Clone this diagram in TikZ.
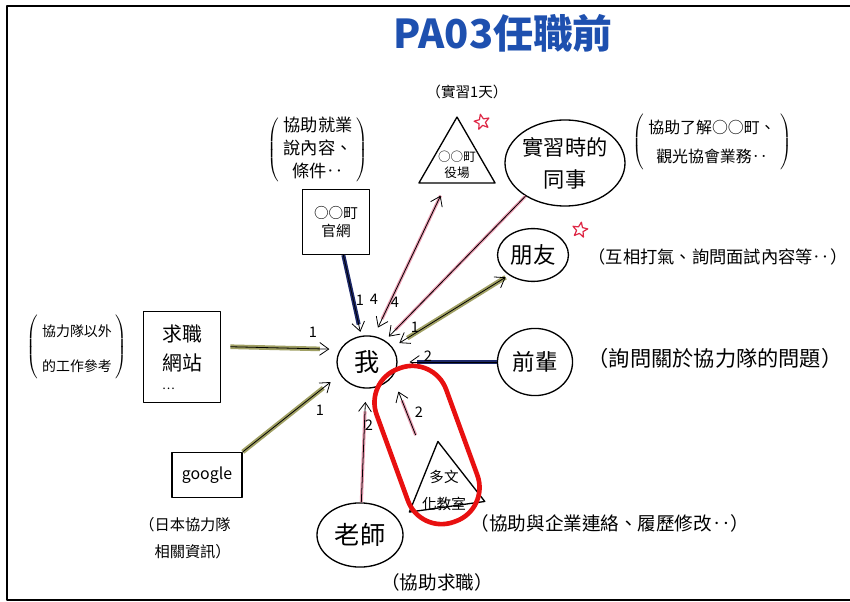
\documentclass[tikz,border=0pt]{standalone}
\usepackage{fontspec}
\setmainfont{Noto Sans CJK TC}
\usetikzlibrary{arrows.meta,shapes.geometric,positioning}
\definecolor{navyline}{RGB}{28,40,105}
\definecolor{oliveline}{RGB}{160,160,100}
\definecolor{pinkline}{RGB}{236,160,180}
\definecolor{titleblue}{RGB}{30,80,175}
\definecolor{markred}{RGB}{232,16,16}
\definecolor{starred}{RGB}{222,40,70}
\newcommand{\inparen}[1]{$\left(\;\begin{tabular}{@{}c@{}}#1\end{tabular}\;\right)$}

\begin{document}
\begin{tikzpicture}[x=0.0265cm, y=-0.0265cm, line join=round,
  >={Straight Barb[length=2.4mm,width=3.4mm]},
  bubble/.style={ellipse, draw, line width=1pt, inner sep=0pt, align=center, font=\fontsize{17}{20}\selectfont},
  card/.style={rectangle, draw, line width=1pt, inner sep=2pt, align=center, font=\fontsize{11}{14}\selectfont},
  tri/.style={regular polygon, regular polygon sides=3, draw, line width=1pt, inner sep=0pt, minimum size=2.33cm},
  note/.style={align=center, inner sep=1pt, font=\fontsize{13}{16}\selectfont},
  num/.style={inner sep=1pt, font=\fontsize{11}{13}\selectfont},
  starmark/.style={star, star points=5, star point ratio=2.3, draw=starred, line width=0.9pt, minimum size=0.42cm, inner sep=0pt},
  navyar/.style={->, black, line width=0.6pt, shorten >=#1, preaction={draw=navyline, line width=3pt, -, shorten >=#1+2mm}},
  navyar/.default=3pt,
  olar/.style={->, black, line width=0.6pt, shorten >=#1, preaction={draw=oliveline, line width=3.5pt, -, shorten >=#1+2.5mm}},
  olar/.default=4pt,
  pinkar/.style={->, black, line width=0.6pt, shorten >=#1, preaction={draw=pinkline, line width=2.4pt, -, shorten >=#1+2.5mm}},
  pinkar/.default=4pt]
 \useasboundingbox (0,0) rectangle (850,602);
 \draw[line width=1.5pt] (851,6) -- (7,6) -- (7,600) -- (851,600);
 \node[font=\fontsize{30}{32}\selectfont\bfseries, text=titleblue] (title) at (503,33) {PA03任職前};

 \node[bubble, minimum width=1.59cm, minimum height=1.38cm, font=\fontsize{19}{22}\selectfont] (me) at (367,362) {我};
 \node[card, minimum width=1.78cm, minimum height=1.72cm] (web) at (336,222) {○○町\\官網};
 \node[tri, label={[font=\fontsize{9.5}{12}\selectfont, align=center, yshift=-3pt]center:{○○町\\役場}}] (office) at (457,161) {};
 \node[bubble, minimum width=2.65cm, minimum height=2.28cm, font=\fontsize{16}{24}\selectfont] (colleague) at (565,163) {實習時的\\同事};
 \node[bubble, minimum width=1.88cm, minimum height=1.40cm] (friend) at (533,255) {朋友};
 \node[bubble, minimum width=1.99cm, minimum height=1.78cm] (senior) at (535,362) {前輩};
 \node[bubble, minimum width=2.28cm, minimum height=1.70cm, font=\fontsize{19}{22}\selectfont] (teacher) at (360,535) {老師};
 \node[card, minimum width=2.04cm, minimum height=2.41cm, font=\fontsize{15}{22}\selectfont] (jobsite) at (182,357) {求職\\網站\\[-8pt]\makebox[2em][l]{\fontsize{9}{9}\selectfont …}};
 \node[card, minimum width=1.86cm, minimum height=1.19cm, font=\fontsize{12}{14}\selectfont] (google) at (207,475) {google};
 \node[tri, minimum size=2.33cm, rotate=8, label={[font=\fontsize{11}{20}\selectfont, align=center, yshift=-4pt]center:{多文\\化教室}}] (edu) at (444,485) {};

 \node[starmark, rotate=12] (star1) at (482,122) {};
 \node[starmark, rotate=-10] (star2) at (580,230) {};

 \node[note, font=\fontsize{13}{17}\selectfont] (webnote) at (318,150) {\inparen{協助就業\\說內容、\\條件‥}};
 \node[note, font=\fontsize{11}{13}\selectfont] (officenote) at (467,92) {（實習1天）};
 \node[note, font=\fontsize{12}{22}\selectfont] (colnote) at (712,142) {\inparen{協助了解○○町、\\觀光協會業務‥}};
 \node[note] (friendnote) at (718,257) {（互相打氣、詢問面試內容等‥）};
 \node[note, font=\fontsize{16}{19}\selectfont] (seniornote) at (715,358) {（詢問關於協力隊的問題）};
 \node[note, font=\fontsize{10.5}{26}\selectfont] (sitenote) at (77,347) {\inparen{協力隊以外\\的工作參考}};
 \node[note, align=left, font=\fontsize{11.5}{20}\selectfont] (googlenote) at (185,538) {（日本協力隊\\\phantom{（}相關資訊）};
 \node[note, font=\fontsize{14}{17}\selectfont] (teachernote) at (437,582) {（協助求職）};
 \node[note, font=\fontsize{14}{17}\selectfont] (edunote) at (610,523) {（協助與企業連絡、履歷修改‥）};

 \draw[navyar] (web) -- (me);
 \draw[pinkar=7pt, <->, shorten <=10pt] (office) -- (me.75);
 \draw[pinkar] (colleague.220) -- (me.50);
 \draw[olar=6pt, <->, shorten <=3pt] (friend.220) -- (me.30);
 \draw[navyar=9pt] (senior) -- (me);
 \draw[pinkar=12pt] ([shift={(-22,-5)}]edu.corner 1) -- (me.-30);
 \draw[pinkar=10pt] (teacher) -- (me);
 \draw[olar=9pt] (google.north east) -- (me.205);
 \draw[olar=8pt, shorten <=7pt] (jobsite.15) -- (me.155);

 \node[num] (n-web) at (360,300) {1};
 \node[num] (n-office) at (374,299) {4};
 \node[num] (n-col) at (395,302) {4};
 \node[num] (n-friend) at (415,327) {1};
 \node[num] (n-senior) at (428,356) {2};
 \node[num] (n-edu) at (419,412) {2};
 \node[num] (n-teacher) at (369,425) {2};
 \node[num] (n-google) at (320,410) {1};
 \node[num] (n-site) at (313,332) {1};

 \node[draw=markred, line width=3.5pt, rounded corners=0.95cm, minimum width=1.96cm, minimum height=4.32cm, rotate=20] (hl) at (427,445) {};
\end{tikzpicture}
\end{document}
